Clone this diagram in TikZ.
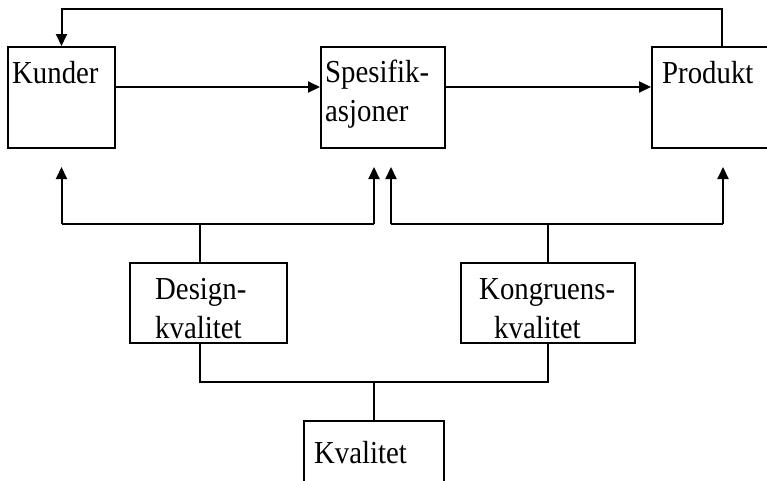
\documentclass[tikz,border=0pt]{standalone}
\usepackage{fontspec}
\setmainfont[FakeStretch=0.9]{Liberation Serif}
\usetikzlibrary{arrows.meta}
\tikzset{
  box/.style={draw, line width=2pt, rectangle, inner sep=0pt},
  lbl/.style={anchor=base west, inner sep=0pt, align=left,
              font=\fontsize{32}{39}\selectfont},
  wire/.style={line width=2pt},
  arr/.style={wire, -{Triangle[length=12pt,width=11pt]}}
}
\begin{document}
\begin{tikzpicture}[x=1pt,y=-1pt]
\useasboundingbox (0,0) rectangle (767,480);
\clip (0,0) rectangle (767,480);
\fill[white] (0,0) rectangle (767,480);

% boxes
\node[box, minimum width=107pt, minimum height=101pt] (kunder) at (61.5,97.5) {};
\node[box, minimum width=124pt, minimum height=101pt] (spes) at (383,97.5) {};
\node[box, minimum width=123pt, minimum height=101pt] (produkt) at (713.5,97.5) {};
\node[box, minimum width=157pt, minimum height=80pt] (design) at (208.5,303) {};
\node[box, minimum width=174pt, minimum height=80pt] (kong) at (548,303) {};
\node[box, minimum width=140pt, minimum height=69pt] (kval) at (374,455.5) {};

% labels (multi-line labels are anchored on the baseline of their last line)
\node[lbl] (tKunder) at (12,83) {Kunder};
\node[lbl] (tSpes) at (325,121) {Spesifik-\\asjoner};
\node[lbl] (tProdukt) at (662,83) {Produkt};
\node[lbl] (tDesign) at (155,338) {Design-\\kvalitet};
\node[lbl] (tKong) at (479,338) {Kongruens-\\\hspace*{15pt}kvalitet};
\node[lbl] (tKval) at (314,463) {Kvalitet};

% junction points
\coordinate (row) at (0,87);
\coordinate (fbR) at (722,9);
\coordinate (fbL) at (61.5,9);
\coordinate (busD) at (200,224);
\coordinate (busK) at (548,224);
\coordinate (busQ) at (374,382);
\coordinate (tipA) at (61.5,167);
\coordinate (tipB) at (374,167);
\coordinate (tipC) at (391,167);
\coordinate (tipD) at (723,167);

% feedback from product to customers
\draw[arr] (fbR |- produkt.north) -- (fbR) -- (fbL) -- (kunder.north);

% main flow
\draw[arr] (kunder.east |- row) -- (spes.west |- row);
\draw[arr] (spes.east |- row) -- (produkt.west |- row);

% design quality feeds customers and specifications
\draw[wire] (busD |- design.north) -- (busD);
\draw[arr] (tipA |- busD) -- (tipA);
\draw[wire] (tipA |- busD) -- (tipB |- busD);
\draw[arr] (tipB |- busD) -- (tipB);

% conformance quality feeds specifications and product
\draw[wire] (kong.north) -- (busK);
\draw[arr] (tipC |- busK) -- (tipC);
\draw[wire] (tipC |- busK) -- (tipD |- busK);
\draw[arr] (tipD |- busK) -- (tipD);

% quality splits into the two kinds
\draw[wire] (kval.north) -- (busQ);
\draw[wire] (busD |- design.south) -- (busD |- busQ) -- (busK |- busQ) -- (kong.south);
\end{tikzpicture}
\end{document}
